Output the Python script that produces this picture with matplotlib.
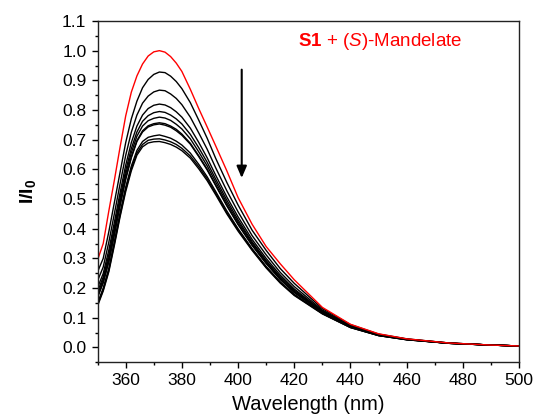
"""
Fluorescence titration: S1 + (S)-Mandelate, normalised intensity I/I0
"""

import matplotlib
matplotlib.use('Agg')  # Non-interactive backend

from matplotlib import pyplot as plt
from matplotlib.ticker import MultipleLocator

plt.rcParams['font.family'] = ['Liberation Sans', 'DejaVu Sans']
plt.rcParams['mathtext.fontset'] = 'custom'
plt.rcParams['mathtext.rm'] = 'Liberation Sans'
plt.rcParams['mathtext.it'] = 'Liberation Sans:italic'
plt.rcParams['mathtext.bf'] = 'Liberation Sans:bold'

# =============================================================================
# Data
# =============================================================================
wavelength = [350, 352, 354, 356, 358, 360, 362, 364, 366, 368, 370, 372, 374,
              376, 378, 380, 383, 386, 389, 392, 396, 400, 405, 410, 415, 420,
              430, 440, 450, 460, 475, 490, 500]

# free host S1 (red)
s1_free = [.295, .350, .460, .565, .675, .780, .860, .915, .955, .982, .996,
           1.000, .995, .980, .958, .930, .870, .805, .743, .680, .595, .505,
           .415, .340, .282, .228, .135, .078, .046, .029, .015, .008, .005]

# increasing amounts of (S)-mandelate (black)
add_1 = [.255, .300, .390, .490, .590, .690, .770, .830, .875, .903, .920,
         .928, .926, .914, .896, .872, .825, .766, .705, .638, .556, .480,
         .395, .327, .266, .216, .131, .077, .045, .029, .015, .008, .005]
add_2 = [.225, .271, .355, .452, .551, .647, .725, .783, .823, .847, .861,
         .867, .865, .854, .839, .818, .776, .723, .668, .606, .528, .457,
         .377, .312, .253, .205, .126, .074, .044, .028, .015, .008, .005]
add_3 = [.202, .249, .328, .423, .521, .614, .690, .746, .783, .805, .816,
         .820, .817, .808, .794, .776, .739, .691, .639, .581, .507, .440,
         .364, .300, .244, .197, .123, .072, .043, .028, .015, .008, .005]
add_4 = [.189, .237, .313, .407, .505, .596, .670, .726, .762, .781, .791,
         .795, .792, .783, .770, .753, .718, .673, .624, .568, .496, .430,
         .356, .293, .238, .193, .121, .071, .042, .027, .014, .008, .005]
add_5 = [.180, .229, .302, .396, .493, .583, .656, .712, .746, .764, .772,
         .776, .773, .765, .752, .736, .703, .659, .612, .558, .487, .423,
         .351, .289, .234, .189, .119, .071, .042, .027, .014, .008, .005]
add_6 = [.171, .220, .291, .384, .481, .570, .642, .697, .730, .747, .754,
         .757, .754, .746, .735, .719, .688, .646, .601, .548, .479, .416,
         .345, .284, .230, .186, .118, .070, .041, .027, .014, .008, .005]
add_7 = [.169, .218, .289, .381, .478, .566, .639, .694, .726, .743, .750,
         .753, .749, .742, .730, .715, .685, .643, .598, .546, .477, .414,
         .344, .283, .229, .185, .118, .070, .041, .027, .014, .008, .005]
add_8 = [.150, .200, .267, .358, .454, .540, .611, .664, .694, .708, .713,
         .716, .711, .705, .695, .682, .655, .617, .575, .526, .460, .400,
         .333, .273, .221, .179, .115, .068, .040, .026, .014, .008, .005]
add_9 = [.145, .194, .260, .351, .446, .532, .602, .655, .684, .698, .702,
         .703, .699, .693, .684, .671, .645, .609, .568, .520, .454, .396,
         .330, .270, .219, .177, .114, .067, .040, .026, .014, .008, .005]
add_10 = [.140, .190, .255, .345, .440, .525, .595, .648, .676, .689, .693,
          .694, .690, .684, .675, .663, .638, .602, .562, .515, .450, .392,
          .327, .268, .217, .175, .113, .067, .040, .026, .014, .008, .005]

titration = [add_1, add_2, add_3, add_4, add_5,
             add_6, add_7, add_8, add_9, add_10]

# arrow marking the decrease
arrow_x = 401.3
arrow_from, arrow_to = 0.936, 0.571

# =============================================================================
# Plot
# =============================================================================
fig = plt.figure(figsize=(5.38, 4.18), dpi=100)
ax = fig.add_axes([0.1814, 0.1333, 0.7833, 0.8165])

for curve in titration:
    ax.plot(wavelength, curve, color='black', lw=1.0)
ax.plot(wavelength, s1_free, color='red', lw=1.0)

ax.annotate('', xy=(arrow_x, arrow_to), xytext=(arrow_x, arrow_from),
            arrowprops=dict(arrowstyle='-|>,head_length=0.7,head_width=0.3',
                            color='black', lw=1.5, shrinkA=0, shrinkB=0))

ax.text(421.4, 1.0145, r'$\mathbf{S1}$ + ($\mathit{S}$)-Mandelate',
        color='red', fontsize=13.5, va='baseline', ha='left')

ax.set_xlim(350, 500)
ax.set_ylim(-0.05, 1.1)
ax.xaxis.set_major_locator(MultipleLocator(20))
ax.xaxis.set_minor_locator(MultipleLocator(10))
ax.yaxis.set_major_locator(MultipleLocator(0.1))
ax.yaxis.set_minor_locator(MultipleLocator(0.05))
ax.tick_params(which='both', direction='out', top=False, right=False,
               labelsize=12.5, colors='black')
ax.tick_params(which='major', length=4, width=1.0, pad=4)
ax.tick_params(which='minor', length=2.5, width=1.0)
ax.set_yticks([i / 10 for i in range(12)])
ax.set_yticklabels([f'{i / 10:.1f}' for i in range(12)])
for spine in ax.spines.values():
    spine.set_linewidth(1.0)
    spine.set_color('#222222')

ax.set_xlabel('Wavelength (nm)', fontsize=14.5, labelpad=5)
ax.set_ylabel(r'$\mathbf{I/I_0}$', fontsize=14, labelpad=17)

plt.savefig('out.png', dpi=100)
plt.close()
